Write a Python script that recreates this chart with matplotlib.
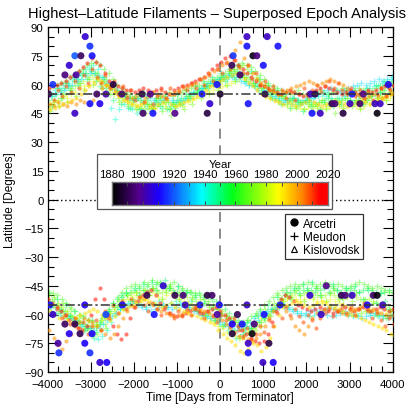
import numpy as np
import matplotlib
matplotlib.use('Agg')
import matplotlib.pyplot as plt
from matplotlib.colors import LinearSegmentedColormap, Normalize
from matplotlib.lines import Line2D
from matplotlib.patches import Rectangle

# ---------------- data ----------------
STEP = 100  # days between successive rotations kept in each track

# Meudon (+) tracks, northern hemisphere
meudon_n1 = [52,54,55,57,58,60,62,63,65,66, 67,66,64,62,60,58,56,55,54,53, 52,53,51,52,50,51,53,52,51,50,
             52,53,54,55,56,57,58,60,61,62, 63,64,65,66,67,66,64,63,61,60, 58,57,56,55,54,53,52,53,52,51,
             52,51,50,51,52,53,52,51,52,53, 52,51,52,53,52,54,55,56,57,59,60]
meudon_n2 = [48,50,51,53,55,57,59,61,62,64, 65,64,62,60,57,55,53,52,51,50, 49,48,50,49,48,50,51,49,48,50,
             51,52,53,54,56,57,58,59,60,61, 62,64,66,68,69,70,68,66,64,62, 60,58,56,55,54,53,52,51,50,51,
             50,49,50,51,50,49,50,51,52,51, 50,51,50,52,53,52,53,54,55,56,57]
meudon_n3 = [56,57,58,60,61,63,64,66,68,69, 70,68,64,58,48,42,47,50,48,47, 45,47,48,47,49,50,48,47,49,48,
             50,52,53,55,56,58,59,61,62,63, 64,63,65,66,64,62,60,61,59,57, 56,55,54,53,52,51,50,49,50,51,
             52,53,54,55,54,53,52,53,54,55, 56,55,56,57,58,59,60,61,62,63,63]
meudon_n4 = [58,59,60,61,62,64,65,67,68,70, 71,72,70,68,66,63,60,58,56,55, 54,55,56,54,55,53,54,55,56,54,
             55,56,57,58,59,60,61,62,63,64, 65,66,67,68,70,71,70,69,67,65, 63,61,59,58,57,56,55,56,57,55,
             54,55,56,57,56,55,56,57,58,57, 56,57,58,57,56,57,58,59,60,61,62]
meudon_n5 = [50,51,52,54,53,55,56,58,59,60, 62,63,61,60,58,56,55,53,52,51, 50,49,48,47,48,49,50,48,47,49,
             50,49,51,52,53,54,55,56,57,58, 59,60,61,62,63,64,62,60,58,56, 54,53,52,51,50,49,48,49,48,47,
             48,49,48,47,48,49,50,49,48,49, 50,49,48,49,50,51,52,53,52,53,54]
meudon_n6 = [54,55,56,57,59,60,62,63,65,66, 66,65,63,61,59,57,55,54,53,52, 53,52,54,53,52,51,52,53,52,51,
             52,53,55,56,57,58,60,61,62,63, 64,65,64,63,62,61,60,59,57,56, 55,54,53,52,51,52,53,52,51,52,
             53,54,55,56,57,58,57,56,57,58, 59,60,61,60,61,62,63,62,63,64,64]
meudon_n7 = [55,49,58,53,61,57,64,60,66,63, 68,62,59,64,55,52,57,50,54,48, 53,47,55,50,46,52,49,54,47,51,
             55,50,57,53,59,56,62,58,64,60, 66,62,68,64,70,65,62,67,59,63, 56,60,53,57,50,55,48,53,51,46,
             52,49,54,47,51,55,49,53,50,56, 52,57,54,50,58,55,60,56,62,58,61]
meudon_n8 = [46,52,49,55,51,58,54,61,57,63, 60,66,58,63,55,60,51,56,49,53, 47,52,45,50,48,53,46,51,44,49,
             51,47,54,50,56,53,59,55,62,57, 64,60,67,62,69,64,66,61,63,58, 60,55,57,52,54,50,52,48,51,47,
             50,46,49,52,47,51,45,50,48,53, 49,52,47,51,54,50,53,57,52,56,59]

# Kislovodsk tracks, northern hemisphere
kislo_n1 = [58,59,60,61,62,64,65,67,69,71, 74,72,70,66,62,60,59,58,57,57, 56,57,58,57,56,57,58,56,55,57,
            58,59,60,61,62,63,64,66,68,70, 72,74,75,73,70,68,66,64,62,60, 59,58,57,56,55,56,57,56,55,54,
            55,56,57,58,59,58,57,56,55,56, 57,56,55,56,57,56,57,58,59,58,59]
kislo_n2 = [50,49,51,50,49,51,50,52,51,50, 52,55,58,60,59,57,56,55,54,53, 54,55,53,54,56,55,54,53,55,56,
            57,58,59,60,61,63,64,66,67,68, 70,72,75,78,82,74,70,66,63,61, 59,57,56,55,56,57,58,59,60,61,
            62,61,60,61,62,63,62,61,60,58, 56,55,54,53,54,55,54,53,54,55,56]
kislo_n3 = [47,48,49,50,51,52,53,55,57,59, 61,63,62,60,58,56,54,52,51,50, 49,50,51,49,48,50,51,52,50,49,
            50,51,52,53,54,55,57,59,60,62, 63,64,65,66,65,63,61,59,57,55, 54,53,52,51,50,51,50,49,50,51,
            52,51,50,49,50,51,52,51,50,49, 50,51,52,51,50,51,52,53,54,55,56]
kislo_n4 = [55,52,57,54,59,56,62,58,65,61, 68,64,61,65,58,62,55,59,53,57, 52,56,51,55,50,54,57,53,58,55,
            56,59,57,61,58,63,60,65,62,68, 66,71,68,73,69,66,70,63,66,60, 62,57,59,55,57,53,56,52,55,58,
            54,57,60,56,59,62,58,61,57,55, 58,54,57,53,56,52,55,58,54,57,60]

# Meudon (+) tracks, southern hemisphere
meudon_s1 = [-52,-53,-55,-57,-58,-60,-62,-63,-65,-66, -67,-66,-64,-61,-58,-55,-52,-50,-49,-48,
             -47,-46,-47,-45,-46,-44,-43,-45,-46,-47, -48,-47,-49,-48,-50,-49,-51,-50,-52,-53,
             -55,-57,-59,-61,-63,-65,-66,-67,-66,-64, -62,-60,-57,-55,-52,-50,-48,-47,-46,-47,
             -46,-47,-48,-47,-46,-45,-46,-47,-48,-47, -46,-47,-48,-47,-46,-47,-48,-49,-48,-47,-48]
meudon_s2 = [-50,-52,-54,-56,-58,-61,-63,-65,-67,-68, -69,-70,-68,-65,-62,-58,-55,-52,-50,-49,
             -48,-49,-47,-48,-46,-47,-48,-47,-46,-48, -49,-50,-51,-52,-53,-52,-54,-55,-56,-57,
             -58,-60,-62,-64,-66,-68,-69,-70,-68,-66, -63,-60,-57,-54,-52,-51,-50,-49,-50,-49,
             -48,-49,-50,-51,-50,-49,-50,-51,-52,-51, -50,-51,-52,-53,-52,-53,-54,-55,-56,-57,-58]
meudon_s3 = [-55,-56,-57,-59,-60,-62,-64,-66,-68,-70, -72,-73,-71,-68,-64,-60,-57,-55,-54,-53,
             -54,-55,-56,-55,-54,-53,-55,-56,-54,-53, -54,-55,-56,-57,-58,-60,-61,-62,-63,-65,
             -66,-68,-70,-72,-71,-69,-67,-65,-63,-61, -59,-58,-57,-56,-55,-56,-57,-58,-59,-60,
             -61,-60,-59,-58,-57,-56,-57,-58,-59,-60, -61,-60,-59,-58,-59,-60,-61,-62,-61,-60,-61]
meudon_s4 = [-48,-49,-50,-52,-54,-56,-58,-60,-62,-63, -64,-65,-63,-60,-57,-54,-51,-48,-46,-45,
             -44,-45,-43,-44,-42,-43,-44,-45,-44,-43, -45,-46,-47,-48,-49,-50,-52,-53,-55,-57,
             -59,-61,-63,-64,-65,-64,-63,-61,-59,-57, -55,-53,-51,-49,-47,-46,-45,-44,-45,-44,
             -43,-44,-45,-44,-43,-44,-45,-44,-45,-46, -45,-44,-43,-44,-45,-46,-45,-46,-47,-48,-49]
meudon_s5 = [-54,-55,-56,-58,-59,-61,-62,-64,-65,-66, -66,-65,-63,-61,-59,-57,-55,-53,-52,-51,
             -50,-51,-52,-50,-49,-51,-52,-50,-49,-51, -52,-53,-54,-55,-57,-58,-60,-62,-64,-66,
             -67,-69,-70,-71,-72,-71,-69,-67,-65,-62, -60,-58,-56,-54,-53,-52,-51,-52,-53,-52,
             -51,-52,-53,-54,-53,-52,-53,-54,-55,-56, -57,-58,-59,-58,-57,-58,-59,-60,-59,-58,-59]
meudon_s6 = [-58,-59,-60,-61,-62,-63,-64,-65,-66,-67, -68,-67,-65,-63,-61,-59,-57,-56,-55,-54,
             -55,-56,-57,-58,-57,-56,-55,-56,-57,-56, -55,-56,-57,-58,-59,-60,-61,-62,-63,-64,
             -65,-66,-67,-68,-67,-66,-64,-62,-60,-59, -58,-57,-56,-55,-56,-57,-58,-59,-60,-59,
             -58,-57,-58,-59,-60,-61,-60,-59,-58,-59, -60,-61,-62,-61,-60,-59,-60,-61,-62,-61,-60]
meudon_s7 = [-49,-55,-52,-58,-55,-61,-58,-64,-61,-67, -63,-69,-65,-61,-58,-54,-56,-51,-49,-53,
             -46,-50,-44,-48,-43,-47,-45,-42,-46,-49, -45,-50,-48,-53,-51,-56,-54,-59,-57,-62,
             -60,-65,-63,-68,-66,-70,-64,-67,-61,-58, -62,-55,-58,-51,-54,-48,-51,-46,-49,-44,
             -47,-43,-46,-50,-45,-48,-44,-47,-51,-46, -49,-45,-48,-52,-47,-50,-54,-49,-53,-57,-52]
meudon_s8 = [-56,-51,-59,-54,-62,-57,-65,-60,-68,-63, -71,-66,-62,-67,-59,-56,-53,-57,-50,-52,
             -48,-52,-47,-50,-46,-49,-52,-48,-45,-50, -52,-49,-55,-51,-57,-54,-60,-56,-63,-59,
             -66,-62,-69,-64,-72,-67,-63,-68,-60,-64, -57,-61,-54,-50,-53,-49,-52,-47,-50,-53,
             -48,-51,-46,-50,-53,-49,-47,-52,-55,-50, -53,-49,-56,-52,-58,-54,-60,-56,-62,-58,-63]

# Kislovodsk tracks, southern hemisphere
kislo_s1 = [-52,-54,-56,-58,-60,-63,-65,-67,-68,-66, -60,-52,-46,-52,-60,-66,-70,-73,-70,-62,
            -56,-53,-50,-48,-47,-50,-54,-57,-59,-60, -61,-60,-59,-58,-57,-58,-59,-58,-57,-56,
            -58,-60,-62,-64,-66,-68,-70,-72,-74,-75, -74,-70,-64,-58,-52,-50,-51,-53,-55,-56,
            -57,-58,-57,-56,-57,-58,-59,-58,-57,-56, -57,-58,-57,-56,-57,-58,-57,-56,-57,-58,-57]
kislo_s2 = [-68,-72,-76,-78,-74,-70,-66,-64,-62,-63, -64,-66,-68,-70,-72,-70,-66,-62,-58,-55,
            -53,-51,-52,-54,-55,-57,-58,-59,-60,-61, -60,-59,-58,-57,-56,-57,-58,-59,-60,-62,
            -63,-65,-67,-69,-71,-72,-73,-74,-72,-70, -66,-62,-58,-56,-55,-58,-62,-66,-68,-70,
            -66,-62,-59,-58,-57,-56,-57,-58,-59,-60, -58,-57,-56,-55,-56,-57,-58,-59,-60,-61,-60]
kislo_s3 = [-58,-60,-62,-61,-63,-64,-62,-60,-59,-58, -57,-58,-60,-62,-63,-61,-59,-57,-56,-55,
            -54,-53,-52,-53,-54,-55,-56,-55,-54,-56, -57,-58,-59,-60,-61,-62,-63,-64,-65,-68,
            -70,-72,-74,-76,-79,-80,-78,-75,-76,-79, -77,-72,-66,-60,-56,-55,-54,-53,-54,-55,
            -56,-55,-54,-53,-54,-55,-56,-57,-58,-59, -60,-61,-62,-63,-64,-65,-66,-67,-68,-70,-71]
kislo_s4 = [-55,-59,-57,-62,-60,-65,-62,-67,-64,-70, -66,-63,-68,-58,-62,-55,-59,-53,-57,-52,
            -56,-51,-55,-58,-54,-57,-60,-56,-59,-62, -58,-61,-57,-60,-56,-59,-62,-58,-61,-64,
            -60,-63,-66,-62,-68,-71,-67,-73,-70,-66, -69,-63,-66,-59,-62,-56,-60,-57,-61,-64,
            -60,-63,-67,-62,-59,-57,-61,-58,-55,-59, -56,-60,-57,-54,-58,-62,-59,-63,-66,-62,-65]

meudon_tracks = [meudon_n1, meudon_n2, meudon_n3, meudon_n4, meudon_n5, meudon_n6, meudon_n7, meudon_n8,
                 meudon_s1, meudon_s2, meudon_s3, meudon_s4, meudon_s5, meudon_s6, meudon_s7, meudon_s8]
meudon_years = [1955, 1975, 1942, 1965, 1985, 1934, 1950, 1970,
                1955, 1975, 1942, 1965, 1985, 1934, 1950, 1970]
meudon_start = [-4000, -3970, -3940, -3985, -3955, -3925, -3990, -3948,
                -3990, -3960, -3930, -3975, -3945, -3915, -3982, -3952]

kislo_tracks = [kislo_n1, kislo_n2, kislo_n3, kislo_n4, kislo_s1, kislo_s2, kislo_s3, kislo_s4]
kislo_years = [2013, 2002, 1994, 2008, 2013, 2002, 1992, 2008]
kislo_start = [-3980, -3950, -3935, -3965, -3995, -3965, -3945, -3975]

# Arcetri (filled circles): day, latitude, year
arc_day = [-3980, -3880, -3600, -3500, -3370, -3340, -3230, -3130, -3020, -2970, -3370, -3020, -2790,
           -2860, -2650, -2480, -2280, -1810, -1620, -1790, -1560, -1050, -420, -300, -240, -75, 0,
           270, 300, 460, 620, 620, 650, 760, 850, 1000, 1040, 1090, 1340, 2090, 2200, 2130, 2320,
           2590, 2660, 2850, 3010, 3060, 3240, 3320, 3590, 3710, 3640, 3900,
           -3880, -3950, -3760, -3740, -3600, -3370, -3500, -3140, -3250, -3140, -3020, -2970, -2650,
           -2790, -2630, -2270, -1700, -1530, -1320, -1050, -860, -810, -470, -300, -190, -20, -70,
           280, 400, 510, 280, 620, 650, 650, 740, 790, 1020, 1130, 990, 1230, 1390, 2080, 2340,
           2460, 2810, 2900, 3060, 3410, 3550, 3640, 3770]
arc_lat = [55, 60, 65, 70, 75, 65, 75, 85, 80, 75, 45, 50, 50,
           55, 55, 60, 55, 55, 55, 45, 45, 45, 55, 45, 50, 60, 55,
           70, 75, 65, 85, 80, 50, 75, 75, 70, 55, 85, 80, 55, 55, 45, 45,
           50, 50, 45, 50, 55, 50, 55, 50, 50, 45, 60,
           -60, -55, -75, -80, -65, -65, -70, -55, -70, -75, -80, -70, -60,
           -85, -85, -55, -50, -60, -45, -50, -50, -55, -55, -50, -50, -55, -60,
           -65, -60, -65, -70, -55, -75, -80, -70, -65, -60, -75, -85, -85, -55, -50, -60,
           -45, -50, -50, -50, -55, -50, -50, -55]
arc_year = [1890, 1915, 1895, 1905, 1920, 1900, 1892, 1905, 1915, 1912, 1903, 1912, 1908,
            1893, 1900, 1888, 1895, 1890, 1898, 1893, 1912, 1897, 1912, 1888, 1905, 1912, 1885,
            1890, 1915, 1893, 1903, 1912, 1912, 1882, 1895, 1912, 1890, 1903, 1912, 1903, 1890, 1912, 1903,
            1890, 1895, 1888, 1903, 1912, 1893, 1897, 1903, 1903, 1882, 1908,
            1905, 1912, 1900, 1915, 1892, 1890, 1908, 1908, 1890, 1910, 1915, 1910, 1918,
            1905, 1910, 1910, 1890, 1912, 1905, 1890, 1895, 1903, 1912, 1888, 1893, 1910, 1900,
            1910, 1890, 1912, 1888, 1903, 1903, 1912, 1882, 1895, 1912, 1888, 1903, 1910, 1912, 1905, 1903,
            1897, 1890, 1895, 1903, 1910, 1893, 1882, 1903]

cbar_years = [1880, 1900, 1920, 1940, 1960, 1980, 2000, 2020]
legend_labels = ['Arcetri', 'Meudon', 'Kislovodsk']
x_ticks = [-4000, -3000, -2000, -1000, 0, 1000, 2000, 3000, 4000]
y_ticks = [-90, -75, -60, -45, -30, -15, 0, 15, 30, 45, 60, 75, 90]

# ---------------- style ----------------
plt.rcParams['font.family'] = ['Liberation Sans', 'DejaVu Sans']
anchor_years = [1880, 1897, 1910, 1938, 1958, 1988, 2003, 2015, 2020]
anchor_cols = [(0, 0, 0), (0.33, 0, 0.55), (0.1, 0, 1), (0, 1, 1), (0, 1, 0.1),
               (1, 1, 0), (1, 0.55, 0), (1, 0, 0), (1, 0, 0)]
cmap = LinearSegmentedColormap.from_list(
    'idl', [((y - 1880) / 140, c) for y, c in zip(anchor_years, anchor_cols)])
norm = Normalize(1880, 2020)

fig = plt.figure(figsize=(4.15, 4.10), dpi=100)
ax = fig.add_axes([0.1149, 0.0902, 0.8313, 0.8415])

for lats, yr, st in zip(meudon_tracks, meudon_years, meudon_start):
    t = st + STEP * np.arange(len(lats))
    ax.scatter(t, lats, marker='+', s=16, linewidths=0.9, color=cmap(norm(yr)), alpha=0.45, zorder=2)

for lats, yr, st in zip(kislo_tracks, kislo_years, kislo_start):
    t = st + STEP * np.arange(len(lats))
    ax.scatter(t, lats, marker='o', s=9, linewidths=0, color=cmap(norm(yr)), alpha=0.55, zorder=3)

ax.scatter(arc_day, arc_lat, marker='o', s=26, linewidths=0, c=cmap(norm(np.array(arc_year))),
           alpha=0.9, zorder=4)

ax.axvline(0, color='#777777', ls=(0, (6, 4)), lw=1.2, zorder=1)
ax.axhline(55, color='#333333', ls=(0, (6, 2, 1.5, 2)), lw=1.1, zorder=5)
ax.axhline(-55, color='#333333', ls=(0, (6, 2, 1.5, 2)), lw=1.1, zorder=5)
ax.axhline(0, color='k', ls=(0, (1, 2)), lw=1.0, zorder=1)

ax.set_xlim(-4000, 4000)
ax.set_ylim(-90, 90)
ax.set_xticks(x_ticks)
ax.set_xticks(np.arange(-4000, 4001, 250), minor=True)
ax.set_yticks(y_ticks)
ax.set_yticks(np.arange(-90, 91, 5), minor=True)
ax.tick_params(which='both', direction='in', top=True, right=True, labelsize=8.2, pad=3)
ax.tick_params(axis='x', which='major', pad=5)
ax.tick_params(which='major', length=7, width=0.8)
ax.tick_params(which='minor', length=4, width=0.8)
for sp in ax.spines.values():
    sp.set_linewidth(0.9)

fig.text(0.522, 0.966, 'Highest\u2013Latitude Filaments \u2013 Superposed Epoch Analysis',
         ha='center', va='center', fontsize=10.5)
fig.text(0.529, 0.030, 'Time [Days from Terminator]', ha='center', va='center', fontsize=8.5)
fig.text(0.025, 0.511, 'Latitude [Degrees]', ha='center', va='center', rotation=90, fontsize=8.5)

# colour-bar box
ax.add_patch(Rectangle((0.143, 0.472), 0.681, 0.160, transform=ax.transAxes,
                       facecolor='white', edgecolor='#555555', lw=0.9, zorder=6))
cax = fig.add_axes([0.270, 0.4976, 0.520, 0.0561], zorder=10)
grad = np.linspace(1880, 2020, 281).reshape(1, -1)
cax.imshow(grad, aspect='auto', cmap=cmap, norm=norm, extent=(1880, 2020, 0, 1))
cax.set_xlim(1880, 2020)
cax.set_yticks([])
cax.set_xticks(np.arange(1880, 2021, 10))
cax.set_xticklabels([])
cax.tick_params(axis='x', direction='in', top=True, bottom=True, length=3, width=0.7, color='#444444')
for sp in cax.spines.values():
    sp.set_color('#777777')
    sp.set_linewidth(1.0)
for yr in cbar_years:
    fig.text(0.270 + 0.520 * (yr - 1880) / 140, 0.573, str(yr), ha='center', va='center', fontsize=8.2)
fig.text(0.530, 0.598, 'Year', ha='center', va='center', fontsize=8.2)

handles = [Line2D([], [], marker='o', color='k', ls='none', markersize=5),
           Line2D([], [], marker='+', color='k', ls='none', markersize=6, markeredgewidth=0.9),
           Line2D([], [], marker='^', color='k', markerfacecolor='none', ls='none', markersize=5,
                  markeredgewidth=0.8)]
leg = ax.legend(handles, legend_labels, loc='upper left', bbox_to_anchor=(0.688, 0.458),
                frameon=True, fancybox=False, edgecolor='#333333', framealpha=1, borderpad=0.3,
                handletextpad=0.2, handlelength=1.0, labelspacing=0.1, fontsize=8.5, borderaxespad=0)
leg.set_zorder(20)
leg.get_frame().set_linewidth(0.9)

fig.savefig('out.png', dpi=100)
